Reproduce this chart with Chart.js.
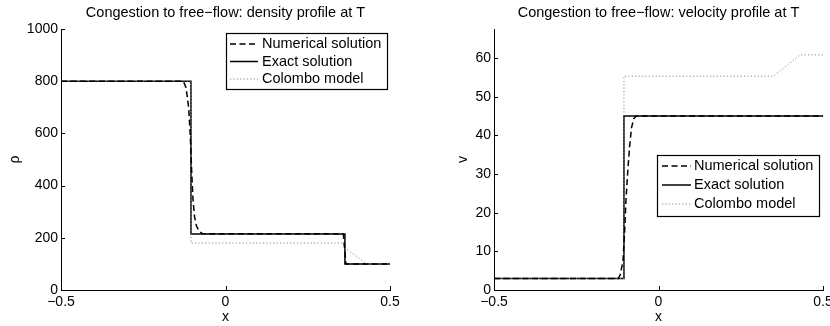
<!DOCTYPE html>
<html>
<head>
<meta charset="utf-8">
<script src="https://cdn.jsdelivr.net/npm/chart.js@4"></script>
<style>
  body { margin: 0; width: 830px; height: 326px; overflow: hidden; background: #fff; position: relative; }
  #densityChart { position: absolute; left: 0; top: 0; }
  #velocityChart { position: absolute; left: 415px; top: 0; }
</style>
</head>
<body>
<canvas id="densityChart" width="415" height="326"></canvas>
<canvas id="velocityChart" width="440" height="326"></canvas>
<script>
// Tick values / labels
const xTicks = [-0.5, 0, 0.5];
const xTickLabels = ['\u22120.5', '0', '0.5'];
const rhoTicks = [0, 200, 400, 600, 800, 1000];
const vTicks = [0, 10, 20, 30, 40, 50, 60];

const seriesNames = ['Numerical solution', 'Exact solution', 'Colombo model'];

// Density profile
const rhoNumX = [-0.5, -0.128, -0.12, -0.112, -0.107, -0.103, -0.099, -0.094, -0.088, -0.08, -0.07, 0.358, 0.362, 0.366, 0.5];
const rhoNumY = [800, 800, 775, 700, 590, 460, 350, 280, 245, 225, 216, 215, 160, 100, 100];
const rhoExactX = [-0.5, -0.105, -0.105, 0.363, 0.363, 0.5];
const rhoExactY = [800, 800, 215, 215, 100, 100];
const rhoColX = [-0.5, -0.105, -0.105, 0.357, 0.363, 0.43, 0.5];
const rhoColY = [800, 800, 180, 180, 160, 100, 100];

// Velocity profile
const vNumX = [-0.5, -0.122, -0.116, -0.108, -0.103, -0.099, -0.094, -0.088, -0.082, -0.075, -0.068, 0.5];
const vNumY = [3, 3, 4, 7.5, 15, 23, 30, 37, 42, 44.3, 45, 45];
const vExactX = [-0.5, -0.105, -0.105, 0.5];
const vExactY = [3, 3, 45, 45];
const vColX = [-0.5, -0.105, -0.105, 0.349, 0.43, 0.5];
const vColY = [3, 3, 55.3, 55.3, 60.8, 60.8];

const fontFamily = "'Liberation Sans', Arial, sans-serif";
Chart.defaults.font.family = fontFamily;
Chart.defaults.font.size = 14;
Chart.defaults.color = '#000';

function toPoints(xs, ys) {
  return xs.map((x, i) => ({ x: x, y: ys[i] }));
}

// MATLAB style ticks pointing into the plot
const innerTicks = {
  id: 'innerTicks',
  afterDraw(chart) {
    const ctx = chart.ctx;
    const area = chart.chartArea;
    const len = 4;
    ctx.save();
    ctx.strokeStyle = '#000';
    ctx.lineWidth = 1;
    ctx.beginPath();
    chart.scales.x.ticks.forEach(t => {
      const px = Math.round(chart.scales.x.getPixelForValue(t.value)) + 0.5;
      ctx.moveTo(px, area.bottom);
      ctx.lineTo(px, area.bottom - len);
    });
    chart.scales.y.ticks.forEach(t => {
      const py = Math.round(chart.scales.y.getPixelForValue(t.value)) + 0.5;
      ctx.moveTo(area.left, py);
      ctx.lineTo(area.left + len, py);
    });
    ctx.stroke();
    ctx.restore();
  }
};

// title centred over the axes
const axesTitle = {
  id: 'axesTitle',
  afterDraw(chart, args, opts) {
    const ctx = chart.ctx;
    const area = chart.chartArea;
    ctx.save();
    ctx.font = '14.5px ' + fontFamily;
    ctx.fillStyle = '#000';
    ctx.textAlign = 'center';
    ctx.textBaseline = 'middle';
    ctx.fillText(opts.text, (area.left + area.right) / 2, opts.y);
    ctx.restore();
  }
};

// boxed legend inside the axes
const boxLegend = {
  id: 'boxLegend',
  afterDraw(chart, args, opts) {
    const ctx = chart.ctx;
    ctx.save();
    ctx.fillStyle = '#fff';
    ctx.fillRect(opts.x, opts.y, opts.w, opts.h);
    ctx.strokeStyle = '#000';
    ctx.lineWidth = 1.2;
    ctx.strokeRect(opts.x + 0.5, opts.y + 0.5, opts.w, opts.h);
    ctx.font = '14.5px ' + fontFamily;
    ctx.textBaseline = 'middle';
    chart.data.datasets.forEach((ds, i) => {
      const y = opts.y + opts.firstRow + i * opts.rowH;
      ctx.beginPath();
      ctx.setLineDash(ds.borderDash || []);
      ctx.strokeStyle = ds.borderColor;
      ctx.lineWidth = ds.borderWidth;
      ctx.moveTo(opts.x + opts.sampleX, y);
      ctx.lineTo(opts.x + opts.sampleX + opts.sampleW, y);
      ctx.stroke();
      ctx.setLineDash([]);
      ctx.fillStyle = '#000';
      ctx.fillText(ds.label, opts.x + opts.textX, y);
    });
    ctx.restore();
  }
};

function makeChart(id, s) {
  const ctx = document.getElementById(id).getContext('2d');
  return new Chart(ctx, {
    type: 'scatter',
    data: {
      datasets: [
        {
          label: seriesNames[0],
          data: toPoints(s.numX, s.numY),
          borderColor: '#000',
          borderWidth: 1.5,
          borderDash: [6, 3.5],
          order: 0
        },
        {
          label: seriesNames[1],
          data: toPoints(s.exactX, s.exactY),
          borderColor: '#000',
          borderWidth: 1.5,
          order: 2
        },
        {
          label: seriesNames[2],
          data: toPoints(s.colX, s.colY),
          borderColor: '#8a8a8a',
          borderWidth: 1,
          borderDash: [1.2, 2.2],
          order: 1
        }
      ]
    },
    options: {
      responsive: false,
      animation: false,
      showLine: true,
      elements: { point: { radius: 0 }, line: { tension: 0 } },
      layout: { padding: { left: 0, right: s.padRight, top: 29, bottom: 0 } },
      plugins: {
        legend: { display: false },
        tooltip: { enabled: false },
        title: { display: false },
        axesTitle: { text: s.title, y: 12.5 },
        boxLegend: s.legend
      },
      scales: {
        x: {
          type: 'linear',
          min: -0.5,
          max: 0.5,
          grid: { display: false, drawTicks: false },
          border: { display: true, color: '#000', width: 1 },
          afterBuildTicks: scale => { scale.ticks = xTicks.map(v => ({ value: v })); },
          afterFit: scale => { scale.height = 36; },
          ticks: {
            padding: 4,
            maxRotation: 0,
            callback: (v, i) => xTickLabels[i]
          },
          title: { display: true, text: 'x', padding: { top: 0, bottom: 0 } }
        },
        y: {
          type: 'linear',
          min: 0,
          max: s.yMax,
          grid: { display: false, drawTicks: false },
          border: { display: true, color: '#000', width: 1 },
          afterBuildTicks: scale => { scale.ticks = s.yTicks.map(v => ({ value: v })); },
          afterFit: scale => { scale.width = s.yWidth; },
          ticks: { padding: 3, callback: v => String(v) },
          title: { display: true, text: s.yTitle, padding: { top: s.yTitlePad, bottom: 0 } }
        }
      }
    },
    plugins: [innerTicks, axesTitle, boxLegend]
  });
}

makeChart('densityChart', {
  title: 'Congestion to free\u2212flow: density profile at T',
  numX: rhoNumX, numY: rhoNumY,
  exactX: rhoExactX, exactY: rhoExactY,
  colX: rhoColX, colY: rhoColY,
  yMax: 1000, yTicks: rhoTicks, yTitle: '\u03C1',
  yWidth: 61, yTitlePad: 6.5, padRight: 25,
  legend: { x: 226, y: 33, w: 161, h: 56, firstRow: 11, rowH: 17.5, sampleX: 4, sampleW: 28, textX: 36 }
});

makeChart('velocityChart', {
  title: 'Congestion to free\u2212flow: velocity profile at T',
  numX: vNumX, numY: vNumY,
  exactX: vExactX, exactY: vExactY,
  colX: vColX, colY: vColY,
  yMax: 67.5, yTicks: vTicks, yTitle: 'v',
  yWidth: 79, yTitlePad: 40, padRight: 32,
  legend: { x: 242, y: 155, w: 162, h: 61, firstRow: 11, rowH: 19, sampleX: 5, sampleW: 29, textX: 37 }
});
</script>
</body>
</html>
